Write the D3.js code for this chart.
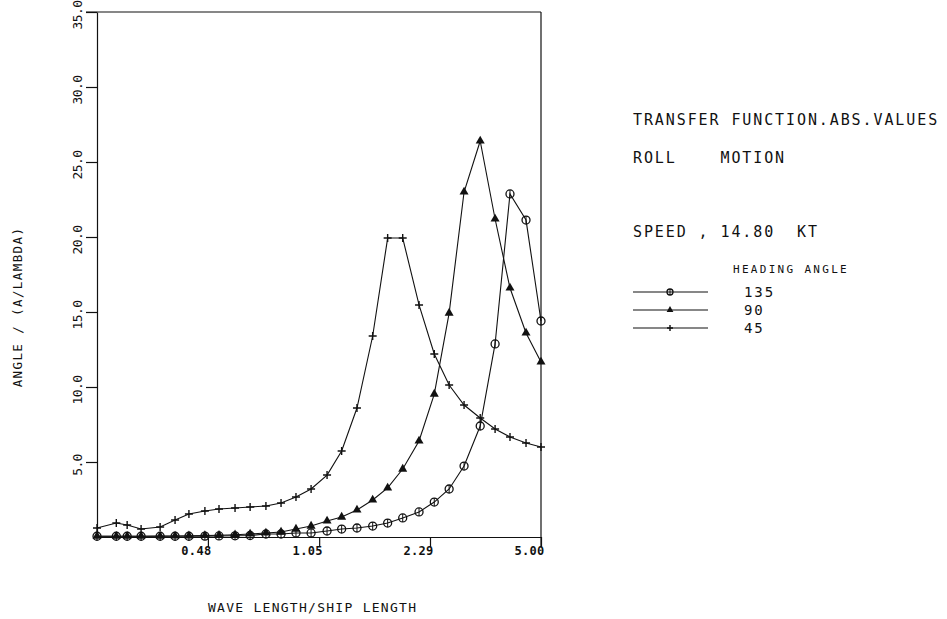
<!DOCTYPE html>
<html>
<head>
<meta charset="utf-8">
<script src="https://cdn.jsdelivr.net/npm/d3@7"></script>
<style>
    body { margin: 0; background: #fff; }
    svg text { font-family: "DejaVu Sans Mono", monospace; fill: #111; }
    .axis path, .axis line { stroke: #111; stroke-width: 1.2; }
</style>
</head>
<body>
<script>

    // wave length / ship length, one value per computed point
    const waveRatio = [0.22, 0.252, 0.272, 0.300, 0.343, 0.381, 0.420, 0.470, 0.519, 0.581,
        0.646, 0.722, 0.803, 0.892, 0.992, 1.11, 1.23, 1.37, 1.53, 1.70,
        1.89, 2.12, 2.36, 2.62, 2.91, 3.26, 3.62, 4.02, 4.50, 5.00]

    const heading135 = [0.05, 0.05, 0.05, 0.05, 0.05, 0.05, 0.05, 0.06, 0.07, 0.08,
        0.1, 0.2, 0.2, 0.27, 0.27, 0.4, 0.53, 0.6, 0.73, 0.93,
        1.27, 1.67, 2.33, 3.2, 4.73, 7.4, 12.87, 22.87, 21.13, 14.4]

    const heading90 = [0.05, 0.05, 0.05, 0.05, 0.06, 0.07, 0.08, 0.1, 0.12, 0.15,
        0.2, 0.27, 0.33, 0.53, 0.73, 1.07, 1.33, 1.8, 2.47, 3.27,
        4.53, 6.4, 9.53, 14.93, 23.0, 26.4, 21.2, 16.6, 13.6, 11.67]

    const heading45 = [0.6, 0.93, 0.8, 0.53, 0.67, 1.13, 1.53, 1.73, 1.87, 1.93,
        2.0, 2.07, 2.27, 2.67, 3.2, 4.13, 5.73, 8.6, 13.4, 19.93,
        19.93, 15.47, 12.2, 10.13, 8.8, 7.93, 7.2, 6.67, 6.27, 6.0]

    const xTicks = [0.48, 1.05, 2.29, 5.00]
    const yTicks = [5, 10, 15, 20, 25, 30, 35]

    const headingNames = ["135", "90", "45"]
    const markerTypes = ["circle", "triangle", "plus"]

    let series = [heading135, heading90, heading45].map((vals, i) => ({
        name: headingNames[i],
        marker: markerTypes[i],
        points: vals.map((v, j) => ({ x: waveRatio[j], y: v }))
    }))

    let plotLeft = 97, plotRight = 541, plotTop = 12, plotBottom = 537

    let svg = d3.select("body")
        .append("svg")
        .attr("width", 947)
        .attr("height", 619)

    let x = d3.scaleLog()
        .domain([0.22, 5.0])
        .range([plotLeft, plotRight])

    let y = d3.scaleLinear()
        .domain([0, 35])
        .range([plotBottom, plotTop])

    // frame: top and right edges
    svg.append("line")
        .attr("x1", plotLeft - 11).attr("x2", plotRight)
        .attr("y1", plotTop).attr("y2", plotTop)
        .attr("stroke", "#111").attr("stroke-width", 1.2)

    svg.append("line")
        .attr("x1", plotRight).attr("x2", plotRight)
        .attr("y1", plotTop).attr("y2", plotBottom + 10)
        .attr("stroke", "#111").attr("stroke-width", 1.2)

    let yAxis = d3.axisLeft(y)
        .tickValues(yTicks)
        .tickSize(11)
        .tickSizeOuter(0)
        .tickFormat(d3.format(".1f"))

    let gy = svg.append("g")
        .attr("class", "axis")
        .attr("transform", "translate(" + plotLeft + ",0)")
        .call(yAxis)

    gy.selectAll("text")
        .attr("x", null)
        .attr("dy", null)
        .attr("text-anchor", "middle")
        .attr("transform", "translate(-15,2.5) rotate(-90)")
        .style("font-size", "13px")
        .style("letter-spacing", "-0.6px")

    let xAxis = d3.axisBottom(x)
        .tickValues(xTicks)
        .tickSize(10)
        .tickSizeOuter(0)
        .tickFormat(d3.format(".2f"))

    let gx = svg.append("g")
        .attr("class", "axis")
        .attr("transform", "translate(0," + plotBottom + ")")
        .call(xAxis)

    gx.selectAll("text")
        .attr("x", -12)
        .attr("y", 18)
        .attr("dy", null)
        .style("font-size", "12px")
        .style("font-weight", "bold")
        .style("letter-spacing", "0.3px")

    svg.append("text")
        .attr("x", 208)
        .attr("y", 612)
        .style("font-size", "13px")
        .style("letter-spacing", "1.27px")
        .text("WAVE LENGTH/SHIP LENGTH")

    svg.append("text")
        .attr("text-anchor", "middle")
        .attr("transform", "translate(22,307) rotate(-90)")
        .style("font-size", "12.5px")
        .style("letter-spacing", "1.4px")
        .text("ANGLE / (A/LAMBDA)")

    let line = d3.line()
        .x(d => x(d.x))
        .y(d => y(d.y))

    function drawMarker(g, type, cx, cy, r) {
        if (type == "circle") {
            g.append("circle")
                .attr("cx", cx).attr("cy", cy).attr("r", r)
                .attr("fill", "none").attr("stroke", "#111").attr("stroke-width", 1.3)
            g.append("line")
                .attr("x1", cx).attr("x2", cx)
                .attr("y1", cy - r).attr("y2", cy + r)
                .attr("stroke", "#111").attr("stroke-width", 1)
        } else if (type == "triangle") {
            g.append("path")
                .attr("transform", "translate(" + cx + "," + cy + ")")
                .attr("d", d3.symbol().type(d3.symbolTriangle).size(r * r * 2.2)())
                .attr("fill", "#111")
        } else {
            g.append("path")
                .attr("d", "M" + (cx - r) + "," + cy + "H" + (cx + r) + "M" + cx + "," + (cy - r) + "V" + (cy + r))
                .attr("stroke", "#111").attr("stroke-width", 1.4)
        }
    }

    let plot = svg.append("g")

    series.forEach(s => {
        plot.append("path")
            .datum(s.points)
            .attr("d", line)
            .attr("fill", "none")
            .attr("stroke", "#111")
            .attr("stroke-width", 1.1)

        let mg = plot.append("g")
        s.points.forEach(p => drawMarker(mg, s.marker, x(p.x), y(p.y), 4))
    })

    // right hand text block, spaces kept as in the plotter output
    let keep = t => t.replace(/ /g, "\u00a0")

    let info = svg.append("g")
        .style("font-size", "15px")
        .style("letter-spacing", "1.9px")

    info.append("text").attr("x", 633).attr("y", 125).text(keep("TRANSFER FUNCTION.ABS.VALUES"))
    info.append("text").attr("x", 633).attr("y", 163).text(keep("ROLL    MOTION"))
    info.append("text").attr("x", 633).attr("y", 237).text(keep("SPEED , 14.80  KT"))

    svg.append("text")
        .attr("x", 733)
        .attr("y", 273)
        .style("font-size", "11px")
        .style("letter-spacing", "2.3px")
        .text("HEADING ANGLE")

    let legendY = [292, 310, 328]

    series.forEach((s, i) => {
        let ly = legendY[i]
        svg.append("line")
            .attr("x1", 633).attr("x2", 708)
            .attr("y1", ly).attr("y2", ly)
            .attr("stroke", "#111").attr("stroke-width", 1.1)
        drawMarker(svg.append("g"), s.marker, 670, ly, 3)
        svg.append("text")
            .attr("x", 744)
            .attr("y", ly + 5)
            .style("font-size", "14px")
            .style("letter-spacing", "1.9px")
            .text(s.name)
    })

</script>
</body>
</html>
